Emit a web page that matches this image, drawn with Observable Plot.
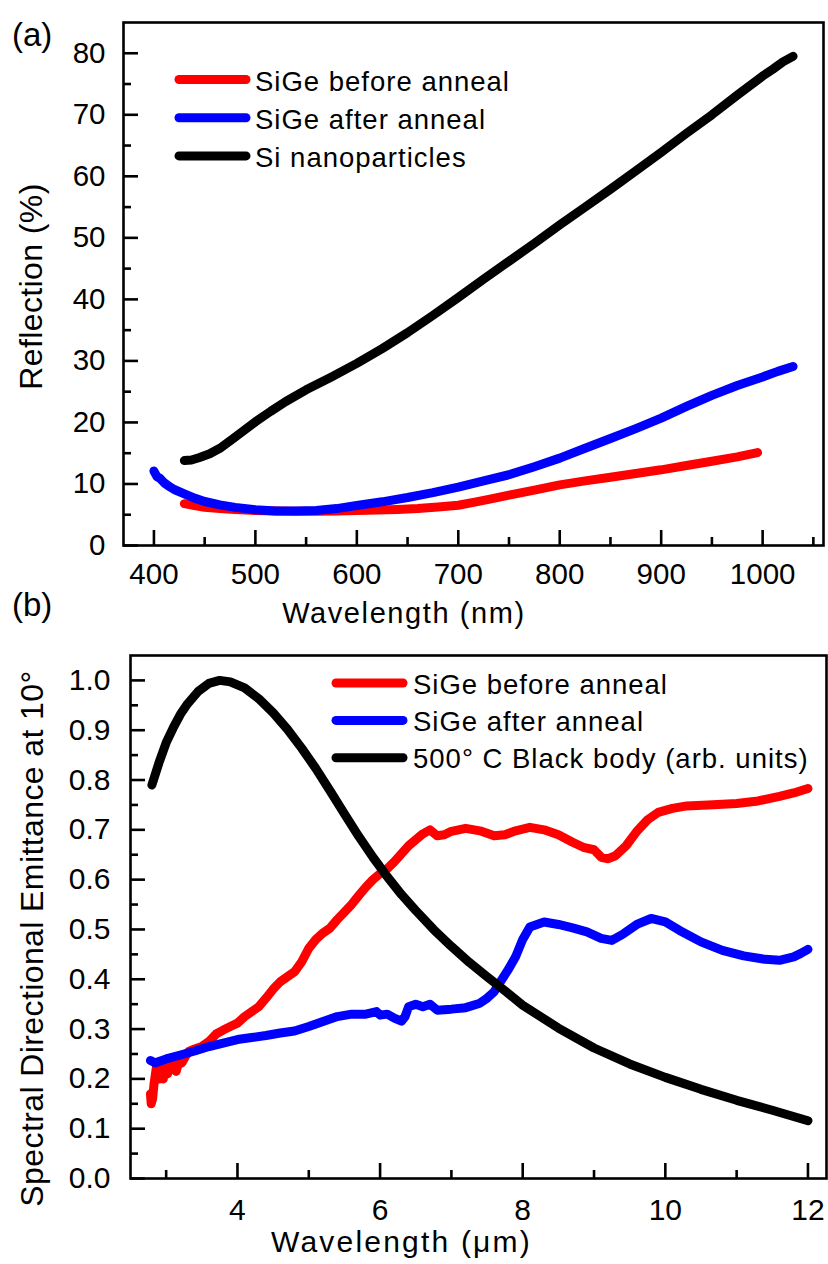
<!DOCTYPE html>
<html>
<head>
<meta charset="utf-8">
<script src="https://cdn.jsdelivr.net/npm/d3@7"></script>
<script src="https://cdn.jsdelivr.net/npm/@observablehq/plot@0.6"></script>
<style>
  html, body { margin: 0; padding: 0; background: #fff; }
  #fig { position: relative; width: 828px; height: 1264px; overflow: hidden; background: #fff; }
  #fig svg { position: absolute; left: 0; }
</style>
</head>
<body>
<div id="fig"></div>
<script>
// ---------- Panel (a): reflection vs wavelength (nm) ----------
const seriesA = ["SiGe before anneal", "SiGe after anneal", "Si nanoparticles"];
const colorsA = ["#ff0000", "#0000ff", "#000000"];

const beforeNm = [430, 440, 450, 465, 480, 500, 520, 540, 560, 580, 600, 620, 640, 660, 680, 700, 715, 730, 750, 775, 800, 825, 850, 875, 900, 925, 950, 975, 995];
const beforeR  = [6.8, 6.5, 6.2, 6.0, 5.85, 5.7, 5.6, 5.55, 5.55, 5.6, 5.7, 5.75, 5.85, 6.0, 6.25, 6.55, 7.0, 7.5, 8.2, 9.0, 9.85, 10.5, 11.1, 11.7, 12.3, 13.0, 13.7, 14.4, 15.1];

const afterNm = [400, 403, 406, 410, 415, 420, 430, 440, 450, 465, 480, 500, 520, 540, 560, 580, 600, 625, 650, 675, 700, 725, 750, 775, 800, 825, 850, 875, 900, 925, 950, 975, 1000, 1015, 1030];
const afterR  = [12.1, 11.2, 10.9, 10.2, 9.6, 9.1, 8.4, 7.7, 7.15, 6.6, 6.2, 5.8, 5.6, 5.6, 5.7, 6.0, 6.5, 7.1, 7.8, 8.6, 9.5, 10.5, 11.5, 12.8, 14.2, 15.8, 17.4, 19.0, 20.7, 22.6, 24.4, 26.0, 27.4, 28.3, 29.1];

const nanoNm = [430, 437, 445, 455, 465, 480, 500, 515, 530, 550, 575, 600, 625, 650, 675, 700, 725, 750, 775, 800, 825, 850, 875, 900, 925, 950, 975, 1000, 1010, 1020, 1030];
const nanoR  = [13.8, 13.9, 14.3, 14.9, 15.8, 17.6, 20.1, 21.8, 23.4, 25.3, 27.4, 29.6, 32.0, 34.6, 37.4, 40.3, 43.3, 46.2, 49.1, 52.1, 55.0, 57.9, 60.9, 63.9, 67.0, 70.0, 73.2, 76.3, 77.4, 78.6, 79.5];

const xMajorA = [400, 500, 600, 700, 800, 900, 1000];
const xMinorA = [450, 550, 650, 750, 850, 950, 1050];
const yMajorA = [0, 10, 20, 30, 40, 50, 60, 70, 80];
const yMinorA = [5, 15, 25, 35, 45, 55, 65, 75];

// ---------- Panel (b): emittance vs wavelength (µm) ----------
const seriesB = ["SiGe before anneal", "SiGe after anneal", "500° C Black body (arb. units)"];
const colorsB = ["#ff0000", "#0000ff", "#000000"];

const beforeUm = [2.78, 2.79, 2.81, 2.83, 2.85, 2.87, 2.89, 2.91, 2.93, 2.96, 2.99, 3.02, 3.06, 3.1, 3.14, 3.18, 3.22, 3.27, 3.32, 3.4, 3.5, 3.6, 3.7, 3.8, 3.9, 4.0, 4.1, 4.2, 4.3, 4.4, 4.5, 4.6, 4.7, 4.8, 4.9, 5.0, 5.1, 5.2, 5.3, 5.4, 5.5, 5.6, 5.7, 5.8, 5.9, 6.0, 6.1, 6.2, 6.3, 6.4, 6.5, 6.6, 6.7, 6.8, 6.9, 7.0, 7.2, 7.4, 7.6, 7.75, 7.9, 8.1, 8.3, 8.5, 8.7, 8.85, 9.0, 9.1, 9.2, 9.3, 9.45, 9.6, 9.75, 9.9, 10.1, 10.3, 10.6, 11.0, 11.3, 11.6, 11.8, 12.0];
const beforeE  = [0.17, 0.15, 0.16, 0.19, 0.21, 0.23, 0.22, 0.2, 0.22, 0.2, 0.23, 0.21, 0.235, 0.23, 0.215, 0.235, 0.232, 0.245, 0.255, 0.26, 0.265, 0.275, 0.29, 0.298, 0.305, 0.312, 0.325, 0.335, 0.345, 0.362, 0.38, 0.395, 0.405, 0.415, 0.435, 0.462, 0.48, 0.493, 0.503, 0.52, 0.535, 0.55, 0.568, 0.585, 0.6, 0.612, 0.622, 0.636, 0.652, 0.668, 0.68, 0.692, 0.7, 0.688, 0.69, 0.697, 0.703, 0.698, 0.688, 0.69, 0.698, 0.705, 0.7, 0.69, 0.675, 0.665, 0.66, 0.645, 0.642, 0.648, 0.668, 0.697, 0.72, 0.735, 0.743, 0.748, 0.75, 0.753, 0.758, 0.767, 0.774, 0.783];

const afterUm = [2.78, 2.85, 2.9, 3.0, 3.2, 3.4, 3.6, 3.8, 4.0, 4.2, 4.4, 4.6, 4.8, 5.0, 5.2, 5.4, 5.6, 5.8, 5.95, 6.0, 6.1, 6.2, 6.3, 6.35, 6.4, 6.5, 6.6, 6.7, 6.8, 7.0, 7.2, 7.4, 7.5, 7.6, 7.7, 7.8, 7.9, 8.0, 8.1, 8.3, 8.5, 8.7, 8.9, 9.1, 9.25, 9.4, 9.6, 9.8, 10.0, 10.2, 10.5, 10.8, 11.1, 11.4, 11.6, 11.8, 11.9, 12.0];
const afterE  = [0.237, 0.232, 0.235, 0.24, 0.248, 0.256, 0.265, 0.272, 0.279, 0.283, 0.287, 0.292, 0.296, 0.305, 0.315, 0.325, 0.33, 0.33, 0.335, 0.328, 0.33, 0.322, 0.316, 0.325, 0.345, 0.35, 0.345, 0.35, 0.338, 0.34, 0.343, 0.352, 0.362, 0.375, 0.398, 0.42, 0.445, 0.48, 0.505, 0.515, 0.51, 0.503, 0.495, 0.482, 0.478, 0.49, 0.51, 0.522, 0.515, 0.498, 0.475, 0.458, 0.447, 0.44, 0.438, 0.445, 0.452, 0.46];

const bbUm = [2.8, 2.9, 3.0, 3.1, 3.2, 3.3, 3.45, 3.6, 3.75, 3.9, 4.1, 4.3, 4.5, 4.7, 4.9, 5.1, 5.3, 5.5, 5.7, 5.9, 6.1, 6.3, 6.5, 6.75, 7.0, 7.25, 7.5, 7.75, 8.0, 8.5, 9.0, 9.5, 10.0, 10.5, 11.0, 11.5, 12.0];
const bbE  = [0.79, 0.835, 0.875, 0.905, 0.932, 0.953, 0.978, 0.994, 1.0, 0.997, 0.985, 0.963, 0.935, 0.902, 0.864, 0.823, 0.778, 0.732, 0.687, 0.645, 0.606, 0.57, 0.538, 0.5, 0.466, 0.434, 0.405, 0.377, 0.348, 0.302, 0.262, 0.23, 0.203, 0.179, 0.157, 0.137, 0.116];

const xMajorB = [4, 6, 8, 10, 12];
const xMinorB = [3, 5, 7, 9, 11];
const yMajorB = [0, 0.1, 0.2, 0.3, 0.4, 0.5, 0.6, 0.7, 0.8, 0.9, 1.0];
const yMinorB = [0.05, 0.15, 0.25, 0.35, 0.45, 0.55, 0.65, 0.75, 0.85, 0.95];

// ---------- helpers ----------
const FONT = '"Liberation Sans", Arial, Helvetica, sans-serif';
const toRows = (xs, ys, series) => xs.map((x, i) => ({x, y: ys[i], series}));

// Text placed relative to a corner of the plot frame (in pixels).
function frameText(text, {ax = "left", ay = "top", dx = 0, dy = 0, size = 28, anchor = "start", rotate = 0, spacing = 0}) {
  return (index, scales, values, dims) => {
    const {width, height, marginLeft, marginRight, marginTop, marginBottom} = dims;
    const fx = {left: marginLeft, center: (marginLeft + width - marginRight) / 2, right: width - marginRight}[ax];
    const fy = {top: marginTop, middle: (marginTop + height - marginBottom) / 2, bottom: height - marginBottom}[ay];
    return d3.create("svg:text")
      .attr("transform", `translate(${fx + dx},${fy + dy})` + (rotate ? ` rotate(${rotate})` : ""))
      .attr("text-anchor", anchor)
      .attr("font-size", size)
      .attr("letter-spacing", spacing)
      .attr("fill", "black")
      .text(text)
      .node();
  };
}

// In-frame legend: a thick line swatch followed by the series name.
function legend(names, colors, {x1, x2, tx, y0, step, lift, size, spacing, strokeWidth}) {
  return (index, scales, values, dims) => {
    const g = d3.create("svg:g");
    const L = dims.marginLeft, T = dims.marginTop;
    names.forEach((name, i) => {
      const base = T + y0 + i * step;
      g.append("line")
        .attr("x1", L + x1).attr("x2", L + x2)
        .attr("y1", base - lift).attr("y2", base - lift)
        .attr("stroke", colors[i]).attr("stroke-width", strokeWidth)
        .attr("stroke-linecap", "round");
      g.append("text")
        .attr("x", L + tx).attr("y", base)
        .attr("text-anchor", "start")
        .attr("font-size", size).attr("letter-spacing", spacing)
        .attr("fill", "black")
        .text(name);
    });
    return g.node();
  };
}

// Inward ticks as short rules hugging the bottom and left edges of the frame.
const MAJOR = 15, MINOR = 8, AXIS_W = 2.6;
const ticksX = (values, len, frameH) =>
  Plot.ruleX(values, {x: d => d, insetTop: frameH - len, stroke: "black", strokeWidth: AXIS_W});
const ticksY = (values, len, frameW) =>
  Plot.ruleY(values, {y: d => d, insetRight: frameW - len, stroke: "black", strokeWidth: AXIS_W});

// ---------- panel (a) ----------
const A = {width: 828, height: 640, marginLeft: 123, marginRight: 5, marginTop: 22, marginBottom: 95};
const frameWA = A.width - A.marginLeft - A.marginRight;
const frameHA = A.height - A.marginTop - A.marginBottom;

const rowsA = [
  ...toRows(beforeNm, beforeR, seriesA[0]),
  ...toRows(afterNm, afterR, seriesA[1]),
  ...toRows(nanoNm, nanoR, seriesA[2])
];

const plotA = Plot.plot({
  ...A,
  x: {domain: [370, 1060]},
  y: {domain: [0, 85]},
  color: {domain: seriesA, range: colorsA},
  style: {fontFamily: FONT, background: "transparent", color: "black", overflow: "visible"},
  marks: [
    Plot.line(rowsA, {x: "x", y: "y", z: "series", stroke: "series", strokeWidth: 9, strokeLinecap: "round", strokeLinejoin: "round"}),
    ticksX(xMajorA, MAJOR, frameHA),
    ticksX(xMinorA, MINOR, frameHA),
    ticksY(yMajorA, MAJOR, frameWA),
    ticksY(yMinorA, MINOR, frameWA),
    Plot.axisX(xMajorA, {anchor: "bottom", tickSize: 0, tickPadding: 18, fontSize: 29.5, tickFormat: d => String(d), label: null}),
    Plot.axisY(yMajorA, {anchor: "left", tickSize: 0, tickPadding: 18, fontSize: 29.5, tickFormat: d => String(d), label: null}),
    Plot.frame({stroke: "black", strokeWidth: AXIS_W}),
    legend(seriesA, colorsA, {x1: 56, x2: 123, tx: 132, y0: 68.5, step: 38.2, lift: 11, size: 27.5, spacing: 1, strokeWidth: 9}),
    frameText("Wavelength (nm)", {ax: "left", ay: "bottom", dx: 281, dy: 78, size: 29, anchor: "middle", spacing: 1.6}),
    frameText("Reflection (%)", {ax: "left", ay: "middle", dx: -81, dy: 3, size: 32, anchor: "middle", rotate: -90, spacing: 0.4}),
    frameText("(a)", {ax: "left", ay: "top", dx: -111, dy: 24, size: 33})
  ]
});

// ---------- panel (b) ----------
const B = {width: 828, height: 684, marginLeft: 130, marginRight: 2, marginTop: 75, marginBottom: 86};
const frameWB = B.width - B.marginLeft - B.marginRight;
const frameHB = B.height - B.marginTop - B.marginBottom;

const rowsB = [
  ...toRows(beforeUm, beforeE, seriesB[0]),
  ...toRows(afterUm, afterE, seriesB[1]),
  ...toRows(bbUm, bbE, seriesB[2])
];

const plotB = Plot.plot({
  ...B,
  x: {domain: [2.5, 12.26]},
  y: {domain: [0, 1.05]},
  color: {domain: seriesB, range: colorsB},
  style: {fontFamily: FONT, background: "transparent", color: "black", overflow: "visible"},
  marks: [
    Plot.line(rowsB, {x: "x", y: "y", z: "series", stroke: "series", strokeWidth: 9, strokeLinecap: "round", strokeLinejoin: "round"}),
    ticksX(xMajorB, MAJOR, frameHB),
    ticksX(xMinorB, MINOR, frameHB),
    ticksY(yMajorB, MAJOR, frameWB),
    ticksY(yMinorB, MINOR, frameWB),
    Plot.axisX(xMajorB, {anchor: "bottom", tickSize: 0, tickPadding: 20, fontSize: 30, tickFormat: d => String(d), label: null}),
    Plot.axisY(yMajorB, {anchor: "left", tickSize: 0, tickPadding: 20, fontSize: 30, tickFormat: d => d.toFixed(1), label: null}),
    Plot.frame({stroke: "black", strokeWidth: AXIS_W}),
    legend(seriesB, colorsB, {x1: 206, x2: 273, tx: 283, y0: 38.5, step: 37.4, lift: 10.5, size: 27.5, spacing: 1, strokeWidth: 9}),
    frameText("Wavelength (\u03bcm)", {ax: "left", ay: "bottom", dx: 271.5, dy: 74, size: 30, anchor: "middle", spacing: 2.2}),
    frameText("Spectral Directional Emittance at 10°", {ax: "left", ay: "middle", dx: -87, dy: 22, size: 32, anchor: "middle", rotate: -90, spacing: 0.4}),
    frameText("(b)", {ax: "left", ay: "top", dx: -118, dy: -39, size: 33})
  ]
});

plotA.style.top = "0px";
plotB.style.top = "580px";
const fig = document.getElementById("fig");
fig.appendChild(plotA);
fig.appendChild(plotB);
</script>
</body>
</html>
